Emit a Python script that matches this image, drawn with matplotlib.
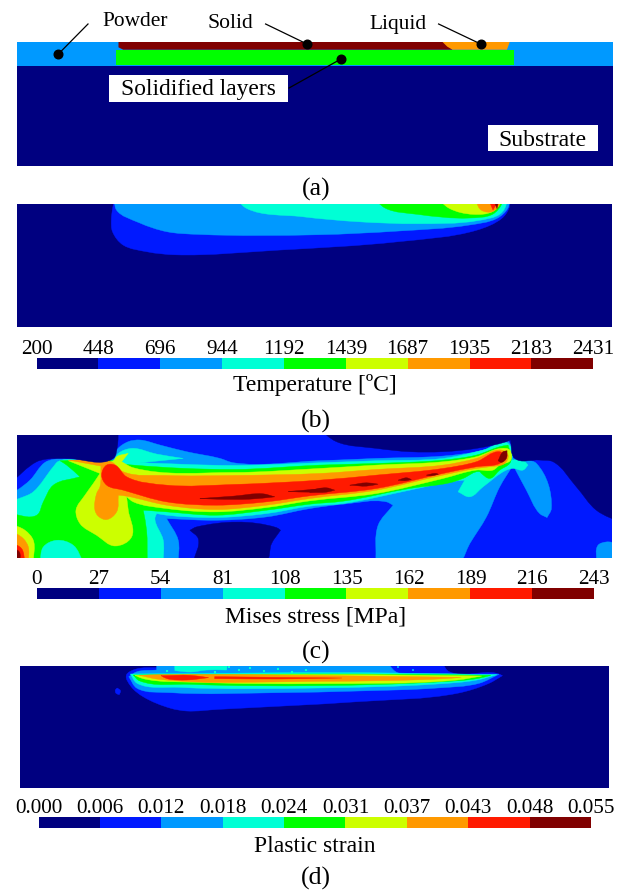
import numpy as np
import matplotlib
matplotlib.use("Agg")
import matplotlib.pyplot as plt
from matplotlib.colors import ListedColormap
from matplotlib.path import Path
from matplotlib.patches import PathPatch, Rectangle

plt.rcParams['font.family'] = ['Liberation Serif', 'DejaVu Serif']

W, H = 623, 890

NAVY, BLUE, SKY, CYAN, GREEN, LIME, ORANGE, RED, DARK = (
    '#000080', '#0019ff', '#0099ff', '#00ffd5', '#00ff00',
    '#ccff00', '#ff9900', '#ff1a00', '#800000')
LEVELS = [NAVY, BLUE, SKY, CYAN, GREEN, LIME, ORANGE, RED, DARK]

temp_ticks = ['200', '448', '696', '944', '1192', '1439', '1687', '1935', '2183', '2431']
mises_ticks = ['0', '27', '54', '81', '108', '135', '162', '189', '216', '243']
strain_ticks = ['0.000', '0.006', '0.012', '0.018', '0.024', '0.031', '0.037', '0.043', '0.048', '0.055']

# outlines, in each panel's own units

# (a)
a_powder = [(43, 126), (1541, 126), (1541, 197), (43, 197)]
a_layers = [(291, 149), (1292, 149), (1292, 196), (291, 196)]
a_solid = [(298, 126), (1125, 126), (1138, 149), (310, 149), (298, 142)]
a_liquid = [(1113, 126), (1282, 126), (1275, 149), (1138, 149), (1125, 140)]

# (b) temperature, outer band first
b_bands = [
    (BLUE, [(290, -20), (280, 60), (283, 95), (310, 135), (370, 155), (440, 164),
            (700, 150), (1000, 125), (1200, 90), (1262, 55), (1280, 25), (1283, -20)]),
    (SKY, [(290, -20), (293, 30), (350, 68), (420, 95), (500, 103), (800, 104),
           (1000, 93), (1180, 75), (1250, 55), (1277, 25), (1283, -20)]),
    (CYAN, [(585, -20), (620, 25), (760, 50), (900, 65), (1050, 71), (1200, 62),
            (1260, 40), (1282, -20)]),
    (GREEN, [(930, -20), (970, 25), (1050, 43), (1180, 54), (1240, 42), (1278, -20)]),
    (LIME, [(1090, -20), (1130, 25), (1190, 43), (1240, 34), (1272, -20)]),
    (ORANGE, [(1195, -20), (1210, 30), (1240, 34), (1268, -20)]),
    (RED, [(1222, -20), (1240, 30), (1264, -20)]),
    (DARK, [(1235, -20), (1250, 26), (1258, -20)]),
]

# (c) Mises stress, painted from the lowest level up
c_sky = [(51, 180), (90, 150), (135, 97), (160, 88), (340, 86), (350, 60), (385, 35),
         (420, 30), (480, 45), (560, 65), (660, 85), (700, 98), (960, 92), (1130, 85),
         (1330, 78), (1430, 65), (1500, 45), (1525, 33), (1537, 50), (1540, 85),
         (1585, 90), (1610, 100), (1655, 235), (1642, 262), (1620, 250), (1580, 180),
         (1540, 105), (1500, 170), (1460, 260), (1410, 340), (1378, 395), (1128, 395),
         (1135, 285), (1180, 225), (1160, 215), (1030, 222), (930, 235), (800, 260),
         (650, 270), (500, 265), (535, 330), (535, 395), (30, 395), (30, 190)]
c_sky_corner = [(1790, 395), (1795, 345), (1820, 335), (1850, 338), (1850, 395)]
c_cyan = [(30, 225), (100, 185), (160, 110), (175, 94), (340, 92), (355, 70), (395, 55),
          (470, 72), (550, 85), (420, 98), (700, 106), (960, 98), (1130, 92), (1330, 85),
          (1450, 60), (1520, 38), (1535, 55), (1537, 90), (1570, 90), (1585, 105),
          (1570, 120), (1540, 115), (1520, 120), (1450, 170), (1410, 200), (1375, 185),
          (1395, 150), (1350, 155), (1230, 180), (1030, 220), (930, 228), (800, 250),
          (650, 262), (500, 255), (470, 250), (465, 265), (490, 330), (490, 395),
          (30, 395)]
c_green = [(30, 250), (110, 255), (130, 215), (160, 165), (240, 140), (200, 105),
           (180, 92), (340, 92), (360, 100), (400, 105), (700, 118), (960, 105),
           (1130, 100), (1330, 90), (1430, 75), (1500, 50), (1525, 45), (1535, 85),
           (1530, 100), (1500, 120), (1470, 145), (1445, 130), (1440, 125), (1390, 145),
           (1350, 158), (1230, 175), (1030, 213), (930, 222), (800, 240), (650, 255),
           (500, 245), (430, 240), (440, 300), (442, 395), (30, 395)]
c_cyan_lobe = [(120, 395), (130, 350), (170, 330), (220, 345), (250, 395)]
c_lime = [(228, 240), (255, 195), (280, 160), (300, 130), (250, 110), (205, 92),
          (340, 92), (350, 80), (385, 70), (365, 95), (400, 113), (700, 127), (960, 115),
          (1130, 105), (1330, 95), (1430, 80), (1505, 55), (1530, 60), (1533, 90),
          (1500, 105), (1480, 120), (1430, 120), (1330, 145), (1130, 190), (930, 212),
          (800, 232), (650, 245), (500, 235), (400, 215), (380, 200), (385, 240),
          (395, 320), (345, 347), (290, 315), (240, 280)]
c_orange = [(285, 240), (290, 190), (300, 170), (303, 108), (205, 90), (335, 96),
            (370, 125), (500, 136), (700, 136), (960, 130), (1130, 118), (1330, 105),
            (1430, 85), (1505, 60), (1525, 75), (1515, 100), (1470, 110), (1430, 115),
            (1330, 135), (1130, 180), (930, 205), (800, 225), (650, 238), (500, 225),
            (380, 198), (355, 195), (350, 245), (320, 268), (295, 258)]
c_red = [(305, 135), (320, 105), (345, 105), (380, 140), (500, 165), (700, 163),
         (960, 150), (1130, 135), (1330, 115), (1430, 95), (1500, 65), (1520, 80),
         (1500, 100), (1430, 110), (1330, 130), (1130, 175), (930, 197), (800, 215),
         (650, 225), (500, 215), (370, 180), (320, 165)]
c_dark_streaks = [
    [(600, 205), (700, 198), (790, 191), (825, 200), (750, 207), (650, 207)],
    [(865, 184), (960, 176), (985, 174), (985, 182), (930, 186)],
    [(930, 180), (980, 173), (1005, 180), (980, 186), (930, 187)],
    [(1050, 165), (1100, 158), (1135, 162), (1100, 168)],
    [(1195, 150), (1220, 143), (1235, 148), (1215, 152)],
    [(1280, 135), (1310, 130), (1316, 133), (1290, 137)],
    [(1495, 92), (1510, 65), (1522, 62), (1520, 85), (1505, 97)],
]
c_navy_left = [(30, -10), (355, -10), (352, 50), (340, 85), (200, 85), (140, 87),
               (110, 95), (30, 160)]
c_navy_right = [(950, -10), (1010, 35), (1130, 55), (1230, 65), (1330, 65), (1430, 55),
                (1520, 35), (1532, 30), (1545, 85), (1620, 90), (1660, 95), (1730, 170),
                (1790, 240), (1870, 280), (1870, -10)]
c_navy_bottom = [(590, 290), (830, 292), (842, 300), (815, 340), (798, 395), (580, 395),
                 (595, 325), (570, 300)]
c_corner = [
    (LIME, [(30, 280), (75, 300), (100, 330), (100, 395), (30, 395)]),
    (ORANGE, [(30, 300), (70, 325), (85, 350), (85, 395), (30, 395)]),
    (RED, [(30, 335), (65, 355), (75, 395), (30, 395)]),
    (DARK, [(30, 350), (58, 365), (60, 395), (30, 395)]),
]

# (d) plastic strain
d_bands = [
    (BLUE, [(405, -10), (1100, -10), (1130, 35), (1250, 40), (1264, 47), (1230, 70),
            (1150, 100), (900, 125), (550, 148), (470, 153), (430, 145), (360, 110),
            (330, 80), (318, 45), (340, 28), (405, 22)]),
    (SKY, [(394, -10), (958, -10), (1000, 38), (1255, 43), (1205, 70), (1100, 84),
           (900, 93), (700, 98), (430, 98), (345, 85), (324, 50), (345, 35), (394, 30)]),
    (CYAN, [(328, 42), (900, 38), (1250, 44), (1200, 60), (1100, 72), (800, 84),
            (450, 82), (345, 70)]),
    (GREEN, [(335, 45), (900, 42), (1235, 46), (1200, 56), (1100, 66), (800, 77),
             (480, 73), (350, 62)]),
    (LIME, [(340, 46), (900, 44), (1212, 48), (1150, 60), (800, 71), (500, 67), (360, 56)]),
    (ORANGE, [(350, 46), (400, 44), (900, 48), (1160, 52), (1120, 56), (800, 64), (400, 58)]),
    (RED, [(405, 47), (480, 46), (525, 53), (470, 60), (420, 56)]),
]
d_red_thin = [(540, 50), (700, 52), (860, 54), (700, 57), (540, 56)]
d_spot = [(295, 84), (303, 92), (300, 104), (292, 100), (290, 90)]
d_cyan_top = [(438, -10), (575, -10), (570, 30), (520, 30), (480, 36), (440, 32)]
# flecks above the band
d_fleck_x = [600, 630, 665, 700, 735, 770, 420, 455, 500, 540, 575]
d_fleck_y = [30, 24, 33, 27, 35, 30, 33, 22, 24, 35, 21]
d_dark_x = [795, 815, 852, 862, 880, 905, 925, 950, 970, 1000, 1040]
d_dark_y = [24, 30, 22, 33, 27, 21, 31, 25, 34, 22, 30]


def px_axes(left, top, right, bottom):
    return fig.add_axes([left / W, 1 - bottom / H, (right - left) / W, (bottom - top) / H])


def blob(ax, pts, color):
    # closed spline through the outline points, sharp where the outline turns hard
    pts = np.array(pts, dtype=float)
    before = pts - np.roll(pts, 1, axis=0)
    after = np.roll(pts, -1, axis=0) - pts
    before /= np.linalg.norm(before, axis=1, keepdims=True)
    after /= np.linalg.norm(after, axis=1, keepdims=True)
    sharp = np.sum(before * after, axis=1) < 0.2
    tang = before + after
    tang /= np.linalg.norm(tang, axis=1, keepdims=True) + 1e-9

    verts = [pts[0]]
    codes = [Path.MOVETO]
    n = len(pts)
    for i in range(n):
        j = (i + 1) % n
        seg = pts[j] - pts[i]
        d = np.linalg.norm(seg) / 3
        t0 = after[i] if sharp[i] else tang[i]
        t1 = before[j] if sharp[j] else tang[j]
        verts += [pts[i] + t0 * d, pts[j] - t1 * d, pts[j]]
        codes += [Path.CURVE4] * 3
    ax.add_patch(PathPatch(Path(verts, codes), fc=color, ec=color, lw=0.3))


def panel(left, top, right, bottom, xlim, ylim, base=NAVY):
    ax = px_axes(left, top, right, bottom)
    ax.set_xlim(*xlim)
    ax.set_ylim(*ylim)
    ax.axis('off')
    ax.add_patch(Rectangle((xlim[0], ylim[1]), xlim[1] - xlim[0], ylim[0] - ylim[1],
                           fc=base, ec='none', zorder=0))
    return ax


def colorbar(left, top, right, bottom, ticks, title, title_y, tag, tag_y):
    ax = px_axes(left, top, right, bottom)
    cmap = ListedColormap(LEVELS)
    ax.pcolormesh(np.arange(len(LEVELS) + 1), [0, 1], [np.arange(len(LEVELS))],
                  cmap=cmap, vmin=-0.5, vmax=len(LEVELS) - 0.5)
    ax.set_yticks([])
    ax.xaxis.tick_top()
    ax.set_xticks(np.arange(len(ticks)))
    ax.set_xticklabels(ticks, fontsize=15.2)
    ax.tick_params(axis='x', length=0, pad=-0.5)
    for s in ax.spines.values():
        s.set_visible(False)
    ov.text((left + right) / 2, title_y + 2, title, fontsize=17, ha='center', va='center')
    ov.text(316, tag_y + 2, tag, fontsize=18.5, ha='center', va='center')


fig = plt.figure(figsize=(W / 100, H / 100), dpi=100, facecolor='white')
ov = fig.add_axes([0, 0, 1, 1], zorder=10)
ov.set_xlim(0, W)
ov.set_ylim(H, 0)
ov.axis('off')
ov.patch.set_alpha(0)

# (a)
ax = panel(17.1, 42, 612.7, 166, (43, 1541), (497, 126))
for pts, col in [(a_powder, SKY), (a_layers, GREEN)]:
    ax.fill(*zip(*pts), color=col, lw=0)
ax.fill(*zip(*a_solid), color=DARK, lw=0)
ax.fill(*zip(*a_liquid), color=ORANGE, lw=0)

for x0, y0, x1, y1 in [(88, 24, 58.4, 54), (265.6, 24, 307, 44), (438.6, 24, 480.7, 44), (289, 88, 341, 59)]:
    ov.plot([x0, x1], [y0, y1], color='black', lw=0.9)
    ov.plot([x1], [y1], 'o', color='black', ms=6.2)
ov.add_patch(Rectangle((109, 75), 179, 26.7, fc='white', ec='none'))
ov.add_patch(Rectangle((487.5, 125), 110, 25.7, fc='white', ec='none'))
ov.text(135, 22, 'Powder', fontsize=15.4, ha='center', va='center')
ov.text(230.6, 24, 'Solid', fontsize=15.6, ha='center', va='center')
ov.text(398, 24, 'Liquid', fontsize=15.4, ha='center', va='center')
ov.text(198, 90, 'Solidified layers', fontsize=16.9, ha='center', va='center')
ov.text(542, 140, 'Substrate', fontsize=17, ha='center', va='center')
ov.text(316, 189, '(a)', fontsize=18.5, ha='center', va='center')

# (b)
ax = panel(17.1, 204, 611.5, 327, (43, 1538), (380, 12))
for col, pts in b_bands:
    blob(ax, pts, col)
colorbar(36.6, 358.3, 593.2, 368.7, temp_ticks, 'Temperature [ºC]', 383, '(b)', 419)

# (c)
ax = panel(17, 435, 612, 558, (51, 1837), (383, 15), base=BLUE)
blob(ax, c_sky, SKY)
blob(ax, c_sky_corner, SKY)
blob(ax, c_cyan, CYAN)
blob(ax, c_green, GREEN)
blob(ax, c_cyan_lobe, CYAN)
blob(ax, c_lime, LIME)
blob(ax, c_orange, ORANGE)
blob(ax, c_red, RED)
for pts in c_dark_streaks:
    blob(ax, pts, DARK)
blob(ax, c_navy_left, NAVY)
blob(ax, c_navy_right, NAVY)
blob(ax, c_navy_bottom, NAVY)
for col, pts in c_corner:
    blob(ax, pts, col)
colorbar(36.6, 588, 594.4, 599, mises_ticks, 'Mises stress [MPa]', 615, '(c)', 650.7)

# (d)
ax = panel(19.9, 666, 609, 787.7, (50, 1532), (383, 18))
for col, pts in d_bands[:2]:
    blob(ax, pts, col)
blob(ax, d_cyan_top, CYAN)
ax.scatter(d_fleck_x, d_fleck_y, s=3, marker='s', color=CYAN, lw=0)
ax.scatter(d_dark_x, d_dark_y, s=3, marker='s', color=SKY, lw=0)
for col, pts in d_bands[2:]:
    blob(ax, pts, col)
blob(ax, d_red_thin, RED)
blob(ax, d_spot, BLUE)
colorbar(38.6, 817.3, 591, 827.7, strain_ticks, 'Plastic strain', 844, '(d)', 876)

fig.savefig('out.png', dpi=100)
